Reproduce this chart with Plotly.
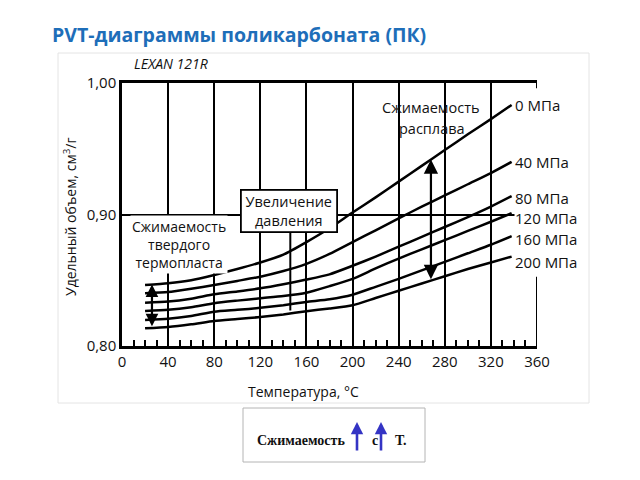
import numpy as np
import plotly.graph_objects as go

# ---------------- data ----------------
temps = [20, 40, 60, 80, 100, 120, 140, 160, 180, 200, 220, 240, 260, 280, 300, 320, 338]
v_0MPa = [0.8464, 0.8477, 0.8500, 0.8540, 0.8585, 0.8635, 0.8695, 0.8790, 0.8895, 0.9015,
          0.9130, 0.9250, 0.9370, 0.9490, 0.9610, 0.9725, 0.9833]
v_40MPa = [0.8401, 0.8410, 0.8435, 0.8464, 0.8495, 0.8527, 0.8570, 0.8625, 0.8700, 0.8790,
           0.8880, 0.8970, 0.9060, 0.9145, 0.9230, 0.9315, 0.9400]
v_80MPa = [0.8329, 0.8338, 0.8360, 0.8393, 0.8415, 0.8439, 0.8470, 0.8505, 0.8545, 0.8610,
           0.8680, 0.8755, 0.8830, 0.8905, 0.8980, 0.9060, 0.9140]
v_120MPa = [0.8266, 0.8275, 0.8295, 0.8325, 0.8345, 0.8363, 0.8380, 0.8405, 0.8455, 0.8510,
            0.8590, 0.8665, 0.8735, 0.8805, 0.8875, 0.8945, 0.9010]
v_160MPa = [0.8198, 0.8207, 0.8228, 0.8261, 0.8275, 0.8290, 0.8310, 0.8335, 0.8355, 0.8390,
            0.8450, 0.8510, 0.8575, 0.8640, 0.8705, 0.8770, 0.8835]
v_200MPa = [0.8135, 0.8145, 0.8165, 0.8190, 0.8205, 0.8220, 0.8240, 0.8265, 0.8285, 0.8310,
            0.8365, 0.8420, 0.8475, 0.8530, 0.8585, 0.8635, 0.8680]
series = [v_0MPa, v_40MPa, v_80MPa, v_120MPa, v_160MPa, v_200MPa]
pressure_labels = ["0 МПа", "40 МПа", "80 МПа", "120 МПа", "160 МПа", "200 МПа"]
label_shift_px = [0, 0, -2, -5, -3, -5]

x_ticks = [0, 40, 80, 120, 160, 200, 240, 280, 320, 360]
x_grid = [40, 80, 120, 160, 200, 240, 280, 320]
y_ticks = [0.80, 0.90, 1.00]
y_tick_labels = ["0,80", "0,90", "1,00"]

melt_arrow_T = 268
solid_arrow_T = 26

# ---------------- layout helpers (pixel -> paper) ----------------
L, R, T, B = 122, 537, 83, 346
def px(x):
    return (x - L) / (R - L)
def py(y):
    return (B - y) / (B - T)

FONT = "Open Sans"
INK = "#111"
fig = go.Figure()

for vals in series:
    fig.add_trace(go.Scatter(x=temps, y=vals, mode="lines",
                             line=dict(color="black", width=2.5, shape="spline", smoothing=0.6),
                             hoverinfo="skip", showlegend=False))
# invisible trace so the overlay grid axis is drawn
fig.add_trace(go.Scatter(x=[x_ticks[0], x_ticks[-1]], y=[y_ticks[0], y_ticks[0]], xaxis="x2",
                         mode="lines", line=dict(width=0), opacity=0,
                         hoverinfo="skip", showlegend=False))

ann = []
def text_ann(xp, yp, text, size=14.5, family=FONT, color=INK, xanchor="center", **kw):
    d = dict(x=px(xp), y=py(yp), xref="paper", yref="paper", text=text, showarrow=False,
             xanchor=xanchor, yanchor="middle", font=dict(family=family, size=size, color=color))
    d.update(kw)
    ann.append(d)

# pressure labels
for vals, lab, sh in zip(series, pressure_labels, label_shift_px):
    ann.append(dict(x=temps[-1], y=vals[-1], xref="x", yref="y", text=lab, showarrow=False,
                    xanchor="left", yanchor="middle", xshift=2, yshift=sh,
                    bgcolor="white", borderpad=0,
                    font=dict(family=FONT, size=15, color=INK)))

# double arrows
for Tq, a_size in [(melt_arrow_T, 1.3), (solid_arrow_T, 1.15)]:
    top = float(np.interp(Tq, temps, v_0MPa))
    bot = float(np.interp(Tq, temps, v_200MPa))
    ann.append(dict(x=Tq, y=top, ax=Tq, ay=bot, xref="x", yref="y", axref="x", ayref="y",
                    text="", showarrow=True, arrowhead=2, startarrowhead=2, arrowside="end+start",
                    arrowwidth=2.2, arrowsize=a_size, startarrowsize=a_size, arrowcolor="black"))

text_ann(431, 107, "Сжимаемость")
text_ann(432, 128, "расплава")
text_ann(289, 210.5, "Увеличение<br>давления", bgcolor="white", bordercolor="black",
         borderwidth=1.8, borderpad=0, width=94, height=40)
text_ann(179, 244, "Сжимаемость<br>твердого<br>термопласта", size=14, bgcolor="white", borderpad=1)
text_ann(132, 64, "<i>LEXAN 121R</i>", size=14, xanchor="left")
# axis titles
text_ann(303, 391, "Температура, °С", size=14)
text_ann(70, 217, "Удельный объем, см<sup>3</sup>/г", size=14, textangle=-90)
# title
text_ann(50, 34, "<b>PVT-диаграммы поликарбоната (ПК)</b>", size=19.5, color="#1e6eb9", xanchor="left")
# bottom box text
SERIF = "Liberation Serif"
text_ann(255, 440, "<b>Сжимаемость</b>", size=14, family=SERIF, xanchor="left")
text_ann(374.5, 441, "<b>с</b>", size=14, family=SERIF)
text_ann(393, 440, "<b>Т.</b>", size=14, family=SERIF, xanchor="left")
for ax_px in (357, 381):
    ann.append(dict(x=px(ax_px), y=py(422), xref="paper", yref="paper", ax=0, ay=30, text="",
                    showarrow=True, arrowhead=2, arrowwidth=2.6, arrowsize=0.95, arrowcolor="#3434c4"))

shapes = [
    # gap in the grid behind the melt label (between grid and curves)
    dict(type="rect", xref="paper", yref="paper", x0=px(381), x1=px(481), y0=py(138), y1=py(93),
         fillcolor="white", line=dict(width=0), layer="between"),
    # pointer line under the "pressure increase" box
    dict(type="line", xref="x", yref="y", x0=146, x1=146, y0=0.827, y1=0.888,
         line=dict(color="black", width=2)),
    # short right border
    dict(type="line", xref="x", yref="y", x0=360, x1=360, y0=0.80, y1=0.8527,
         line=dict(color="black", width=2)),
    dict(type="line", xref="x", yref="y", x0=360, x1=360, y0=1.0, y1=0.996,
         line=dict(color="black", width=2)),
    # scan edges
    dict(type="rect", xref="paper", yref="paper", x0=px(58), x1=px(589), y0=py(403), y1=py(53),
         line=dict(color="#e4e4e4", width=1), layer="below"),
    # bottom info box
    dict(type="rect", xref="paper", yref="paper", x0=px(243), x1=px(425), y0=py(462), y1=py(408),
         line=dict(color="#b4b4b4", width=1)),
]

fig.update_layout(
    width=640, height=480,
    margin=dict(l=L, r=640 - R, t=T, b=480 - B),
    plot_bgcolor="white", paper_bgcolor="white",
    showlegend=False,
    annotations=ann, shapes=shapes,
    xaxis=dict(range=[0, 360], tickvals=x_ticks, ticktext=[str(v) for v in x_ticks],
               showgrid=False, zeroline=False, showline=True, mirror=True,
               linecolor="black", linewidth=2.5,
               ticks="inside", ticklen=6, tickwidth=1.5, tickcolor="black",
               minor=dict(tickmode="linear", tick0=0, dtick=10, ticks="inside", ticklen=6,
                          tickwidth=1.5, tickcolor="black", showgrid=False),
               tickfont=dict(family=FONT, size=15, color=INK)),
    xaxis2=dict(range=[0, 360], overlaying="x", anchor="y", side="bottom",
                tickvals=x_grid, showgrid=True, gridcolor="black", gridwidth=2,
                showticklabels=False, ticks="", zeroline=False, showline=False),
    yaxis=dict(range=[0.80, 1.00], tickvals=y_ticks, ticktext=y_tick_labels,
               showgrid=True, gridcolor="black", gridwidth=2, zeroline=False,
               showline=True, linecolor="black", linewidth=2.5, ticks="",
               tickfont=dict(family=FONT, size=15, color=INK)),
)

fig.write_html("out.html")
